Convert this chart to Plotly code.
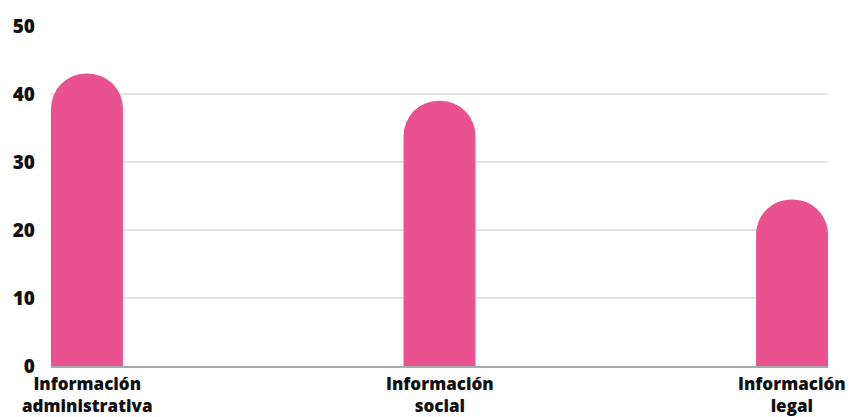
import plotly.graph_objects as go

line1 = ["Información", "Información", "Información"]
line2 = ["administrativa", "social", "legal"]
values = [43, 39, 24.5]
y_ticks = [0, 10, 20, 30, 40, 50]

bar_color = "#E9528F"
font_family = "Open Sans"
text_color = "#111111"

fig = go.Figure(
    go.Bar(
        x=[0, 1, 2],
        y=values,
        width=0.204,
        marker=dict(color=bar_color, line=dict(width=0)),
        hoverinfo="skip",
    )
)

annotations = []
for i, (a, b) in enumerate(zip(line1, line2)):
    annotations.append(dict(
        x=i, xref="x", y=0, yref="paper", yanchor="top", xanchor="center",
        text=a + "<br>" + b, showarrow=False, yshift=-5, borderpad=0,
        align="center",
        font=dict(family=font_family, size=17, color=text_color, weight=800),
    ))

fig.update_layout(
    width=851,
    height=417,
    margin=dict(l=51, r=23, t=26, b=51, autoexpand=False),
    paper_bgcolor="white",
    plot_bgcolor="white",
    barcornerradius="50%",
    showlegend=False,
    font=dict(family=font_family, size=18, color=text_color),
    annotations=annotations,
)

fig.update_xaxes(
    range=[-0.102, 2.102],
    showgrid=False,
    showline=True,
    linecolor="#a8a8a8",
    linewidth=1.5,
    ticks="",
    showticklabels=False,
    automargin=False,
    fixedrange=True,
)

fig.update_yaxes(
    range=[0, 50],
    tickmode="array",
    tickvals=y_ticks,
    ticktext=[str(v) for v in y_ticks],
    showgrid=True,
    gridcolor="#e3e3e3",
    gridwidth=1.5,
    zeroline=False,
    showline=False,
    ticks="",
    ticklabelstandoff=15,
    automargin=False,
    tickfont=dict(family=font_family, size=19, color=text_color, weight=800),
    fixedrange=True,
)

fig.write_html(
    "out.html",
    config={"displayModeBar": False},
    post_script="document.body.style.margin='0';document.body.style.overflow='hidden';",
)
